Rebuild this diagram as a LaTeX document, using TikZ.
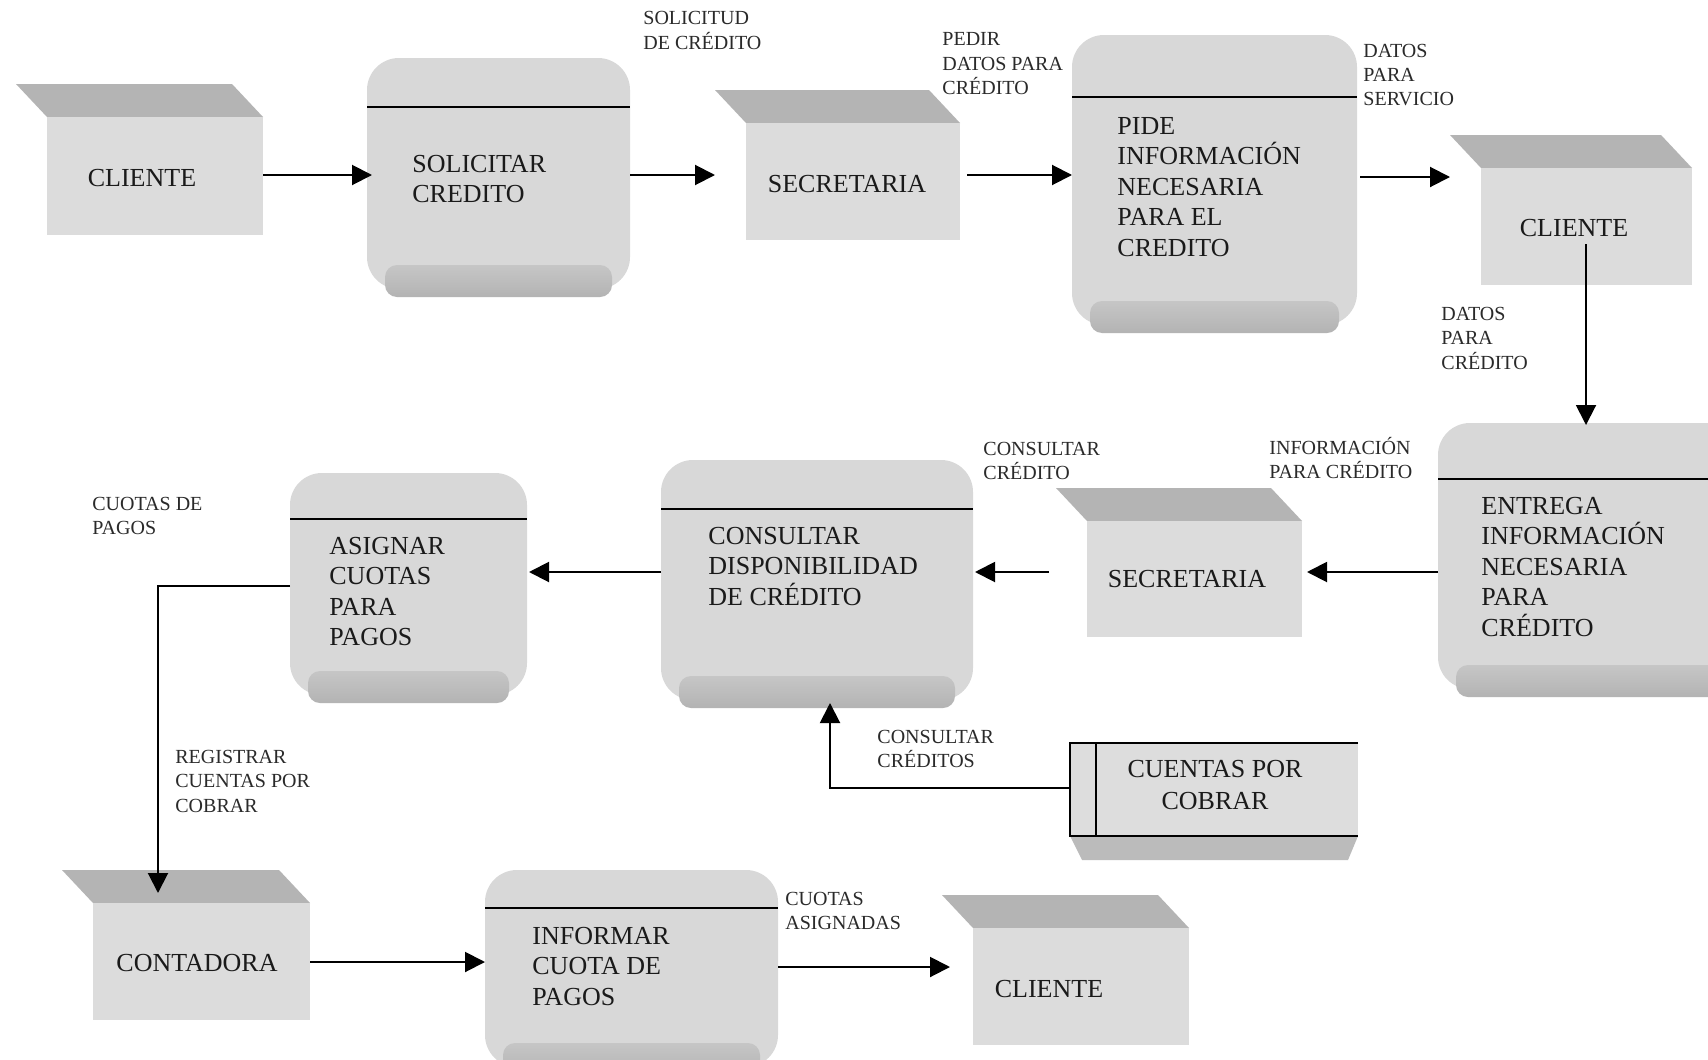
\documentclass[tikz,border=0pt]{standalone}
\usepackage{fontspec}
\setmainfont{Liberation Serif}
\usetikzlibrary{arrows.meta,fit}
\definecolor{procfill}{HTML}{D8D8D8}
\definecolor{bandtop}{HTML}{C6C6C6}
\definecolor{bandbot}{HTML}{B3B3B3}
\definecolor{bevelc}{HTML}{B4B4B4}
\definecolor{facec}{HTML}{DCDCDC}
\definecolor{storec}{HTML}{DDDDDD}
\definecolor{storesh}{HTML}{BBBBBB}
\definecolor{txtc}{HTML}{1A1A1A}
\definecolor{lblc}{HTML}{2A2A2A}
\newcommand\procbox[6]{%
  \fill[procfill,rounded corners=16pt] (#2,#3) rectangle (#4,{#5-8});
  \shade[top color=bandtop,bottom color=bandbot,rounded corners=6pt] ({#2+18},{#5-32}) rectangle ({#4-18},#5);
  \draw[line width=1pt] (#2,#6) -- (#4,#6);
  \node[fit={(#2,#3) (#4,#5)},inner sep=0,outer sep=0] (#1) {};
}
\newcommand\entbox[5]{%
  \fill[bevelc] ({#2-31},{#3-33}) -- ({#4-31},{#3-33}) -- (#4,#3) -- (#2,#3) -- cycle;
  \fill[facec] (#2,#3) rectangle (#4,#5);
  \node[fit={({#2-31},{#3-33}) (#4,#5)},inner sep=0,outer sep=0] (#1) {};
}
\begin{document}
\begin{tikzpicture}[x=0.5pt,y=-0.5pt,
  arr/.style={line width=1pt,-{Triangle[length=10pt,width=10pt]}},
  ptext/.style={anchor=base west,inner sep=0,font=\fontsize{13}{15.25}\selectfont,text=txtc},
  etext/.style={anchor=base,inner sep=0,font=\fontsize{13}{15.25}\selectfont,text=txtc},
  lbl/.style={anchor=base west,inner sep=0,font=\fontsize{10}{12.25}\selectfont,text=lblc}]
\useasboundingbox (0,0) rectangle (1708,1060);
\fill[white] (0,0) rectangle (1708,1060);
\clip (0,0) rectangle (1708,1060);

% shapes
\entbox{cl1}{47}{117}{263}{235}
\procbox{sol}{367}{58}{630}{297}{107}
\entbox{sec1}{746}{123}{960}{240}
\procbox{pide}{1072}{35}{1357}{333}{97}
\entbox{cl2}{1481}{168}{1692}{285}
\procbox{ent}{1438}{423}{1760}{697}{479}
\entbox{sec2}{1087}{521}{1302}{637}
\procbox{cons}{661}{460}{973}{708}{509}
\procbox{asig}{290}{473}{527}{703}{519}
\entbox{cont}{93}{903}{310}{1020}
\procbox{inf}{485}{870}{778}{1075}{908}
\entbox{cl3}{973}{928}{1189}{1045}

% data store
\fill[storec] (1070,743) rectangle (1358,836);
\fill[storesh] (1070,836) -- (1358,836) -- (1348,860) -- (1082,860) -- cycle;
\draw[line width=0.8pt] (1358,743) -- (1070,743) -- (1070,836) -- (1358,836);
\draw[line width=0.8pt] (1096,743) -- (1096,836);
\node[fit={(1070,743) (1358,836)},inner sep=0,outer sep=0] (store) {};

% texts in shapes
\node[ptext] (tsol) at (412,172) {\vtop{\hbox{SOLICITAR}\hbox{CREDITO}}};
\node[ptext] (tpide) at (1117,134) {\vtop{\hbox{PIDE}\hbox{INFORMACIÓN}\hbox{NECESARIA}\hbox{PARA EL}\hbox{CREDITO}}};
\node[ptext] (tent) at (1481,514) {\vtop{\hbox{ENTREGA}\hbox{INFORMACIÓN}\hbox{NECESARIA}\hbox{PARA}\hbox{CRÉDITO}}};
\node[ptext] (tcons) at (708,544) {\vtop{\hbox{CONSULTAR}\hbox{DISPONIBILIDAD}\hbox{DE CRÉDITO}}};
\node[ptext] (tasig) at (329,554) {\vtop{\hbox{ASIGNAR}\hbox{CUOTAS}\hbox{PARA}\hbox{PAGOS}}};
\node[ptext] (tinf) at (532,944) {\vtop{\hbox{INFORMAR}\hbox{CUOTA DE}\hbox{PAGOS}}};

\node[etext] (tcl1) at (142,186) {CLIENTE};
\node[etext] (tsec1) at (847,192) {SECRETARIA};
\node[etext] (tcl2) at (1574,236) {CLIENTE};
\node[etext] (tsec2) at (1187,587) {SECRETARIA};
\node[etext] (tcont) at (197,971) {CONTADORA};
\node[etext] (tcl3) at (1049,997) {CLIENTE};
\node[anchor=base,inner sep=0,font=\fontsize{13}{16}\selectfont,text=txtc] (tstore) at (1215,777)
  {\vtop{\hbox to 100pt{\hfil CUENTAS POR\hfil}\hbox to 100pt{\hfil COBRAR\hfil}}};

% flow labels
\node[lbl] (l1) at (643,25) {\vtop{\hbox{SOLICITUD}\hbox{DE CRÉDITO}}};
\node[lbl] (l2) at (942,46) {\vtop{\hbox{PEDIR}\hbox{DATOS PARA}\hbox{CRÉDITO}}};
\node[lbl] (l3) at (1363,57) {\vtop{\hbox{DATOS}\hbox{PARA}\hbox{SERVICIO}}};
\node[lbl] (l4) at (1441,320) {\vtop{\hbox{DATOS}\hbox{PARA}\hbox{CRÉDITO}}};
\node[lbl] (l5) at (1269,454) {\vtop{\hbox{INFORMACIÓN}\hbox{PARA CRÉDITO}}};
\node[lbl] (l6) at (983,455) {\vtop{\hbox{CONSULTAR}\hbox{CRÉDITO}}};
\node[lbl] (l7) at (92,510) {\vtop{\hbox{CUOTAS DE}\hbox{PAGOS}}};
\node[lbl] (l8) at (175,763) {\vtop{\hbox{REGISTRAR}\hbox{CUENTAS POR}\hbox{COBRAR}}};
\node[lbl] (l9) at (877,743) {\vtop{\hbox{CONSULTAR}\hbox{CRÉDITOS}}};
\node[lbl] (l10) at (785,905) {\vtop{\hbox{CUOTAS}\hbox{ASIGNADAS}}};

% connectors
\draw[arr,shorten >=-2.5pt] (cl1.east |- 0,175) -- (sol.west |- 0,175);
\draw[arr] (sol.east |- 0,175) -- (sec1.west |- 0,175);
\draw[arr,shorten <=3.5pt] (sec1.east |- 0,175) -- (pide.west |- 0,175);
\draw[arr,shorten <=1.5pt] (pide.east |- 0,177) -- (cl2.west |- 0,177);
\coordinate (c2s) at (1586,244);
\draw[arr,shorten >=-1pt] (c2s) -- (c2s |- ent.north);
\draw[arr,shorten >=2.5pt] (ent.west |- 0,572) -- (sec2.east |- 0,572);
\draw[arr,shorten <=3.5pt,shorten >=1pt] (sec2.west |- 0,572) -- (cons.east |- 0,572);
\draw[arr,shorten >=1pt] (cons.west |- 0,572) -- (asig.east |- 0,572);
\coordinate (b1) at (158,586);
\draw[arr,shorten >=-11.5pt] (asig.west |- b1) -- (b1) -- (b1 |- cont.north);
\coordinate (b2) at (830,788);
\draw[arr,shorten >=-2.5pt] (store.west |- b2) -- (b2) -- (b2 |- cons.south);
\draw[arr] (cont.east |- 0,962) -- (inf.west |- 0,962);
\draw[arr,shorten >=-4pt] (inf.east |- 0,967) -- (cl3.west |- 0,967);
\end{tikzpicture}
\end{document}
